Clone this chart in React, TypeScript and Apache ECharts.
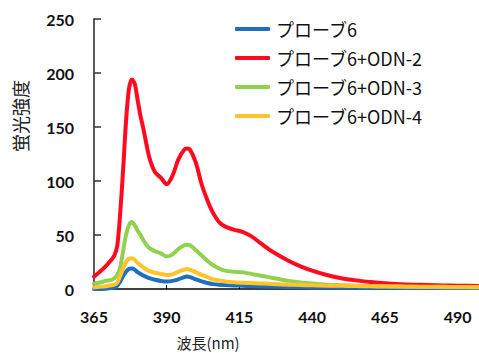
import React, { useEffect, useRef } from "react";
import * as echarts from "echarts";

const wavelengths = [365, 367, 369, 371, 372, 373, 374, 375, 376, 377, 378, 379, 380, 381, 382, 384, 386, 388, 390, 392, 394, 396, 397, 398, 400, 402, 404, 406, 408, 410, 413, 416, 419, 422, 425, 428, 432, 436, 440, 445, 450, 455, 460, 465, 470, 475, 480, 485, 490, 497];

const probe6 = [0, 0, 0.2, 0.8, 1.5, 3, 7, 12, 16, 18.5, 19, 18, 15.5, 14, 12.5, 10, 8.5, 7.5, 7, 7.5, 9, 11, 11.5, 11, 9, 7, 5.5, 4.5, 4, 3.7, 3.3, 3, 2.7, 2.5, 2.3, 2.1, 1.9, 1.7, 1.5, 1.4, 1.3, 1.2, 1.1, 1.1, 1, 1, 1, 1, 1, 1];
const odn2 = [11.5, 16, 21, 27, 31, 40, 70, 110, 155, 185, 194, 190, 175, 160, 148, 122, 108, 103, 97, 105, 120, 129, 130, 129, 117, 97, 82, 70, 62, 58, 55, 53, 49, 43, 37, 32, 26, 21, 17, 13, 10, 8, 6.5, 5.3, 4.5, 4, 3.7, 3.3, 3, 2.8];
const odn3 = [5, 6, 7.5, 8.5, 10, 13, 20, 35, 50, 59, 62, 59, 54, 50, 45, 38, 35, 33, 30, 32, 37, 40.5, 41, 40.5, 36, 31, 26, 22, 19, 17, 16, 15.5, 14, 12.5, 11, 9.5, 7.5, 6, 5, 4, 3.5, 3, 2.7, 2.5, 2.2, 2, 1.8, 1.7, 1.6, 1.5];
const odn4 = [1.5, 2, 2.5, 3.5, 4, 6, 12, 19, 25, 28, 28.5, 27, 24, 22, 20, 16.5, 15, 14, 13, 13.5, 16, 18, 18.5, 18, 15.5, 13, 11, 9, 8, 7, 6.2, 5.8, 5.5, 5.2, 4.8, 4.5, 4, 3.7, 3.4, 3.1, 2.9, 2.7, 2.5, 2.3, 2.2, 2.1, 2, 2, 1.9, 1.8];

const seriesNames = ["プローブ6", "プローブ6+ODN-2", "プローブ6+ODN-3", "プローブ6+ODN-4"];
const seriesColors = ["#1F6FC0", "#FF0A1E", "#92D050", "#FFC32C"];
const seriesValues = [probe6, odn2, odn3, odn4];

const xStart = 365;
const xEnd = 497;
const xStep = 25;
const yMax = 250;
const yStep = 50;

export default function App() {
  const ref = useRef<HTMLDivElement>(null);
  useEffect(() => {
    const chart = echarts.init(ref.current!, null, { renderer: "svg" });
    chart.setOption({
      animation: false,
      grid: { left: 94, right: 1, top: 19, bottom: 64 },
      legend: {
        orient: "vertical",
        left: 230,
        top: 15,
        icon: "roundRect",
        itemWidth: 35,
        itemHeight: 4,
        itemGap: 11,
        textStyle: { fontFamily: "Noto Sans CJK JP", fontSize: 18, color: "#111", padding: [0, 0, 0, 1] },
        data: seriesNames,
      },
      xAxis: {
        type: "value",
        min: 0,
        max: xEnd - xStart,
        interval: xStep,
        axisLine: { show: true, lineStyle: { color: "#000", width: 1.5 } },
        axisTick: { show: true, inside: true, length: 4, lineStyle: { color: "#000" } },
        axisLabel: {
          margin: 19,
          formatter: (v: number) => String(v + xStart),
          fontFamily: "Lato",
          fontWeight: "bold",
          fontSize: 16,
          color: "#111",
          showMaxLabel: false,
        },
        splitLine: { show: false },
      },
      yAxis: {
        type: "value",
        min: 0,
        max: yMax,
        interval: yStep,
        axisLine: { show: true, lineStyle: { color: "#595959", width: 2 } },
        axisTick: { show: true, inside: true, length: 7, lineStyle: { color: "#333", width: 1.5 } },
        axisLabel: {
          margin: 20,
          fontFamily: "Lato",
          fontWeight: "bold",
          fontSize: 16,
          color: "#111",
        },
        splitLine: { show: false },
      },
      graphic: [
        {
          type: "text",
          x: 20,
          y: 116,
          rotation: Math.PI / 2,
          style: {
            text: "蛍光強度",
            fontFamily: "Noto Sans CJK JP",
            fontSize: 18,
            fill: "#222",
            align: "center",
            verticalAlign: "middle",
          },
        },
        {
          type: "text",
          x: 208,
          y: 342,
          style: {
            text: "波長(nm)",
            fontFamily: "Noto Sans CJK JP",
            fontSize: 15,
            fill: "#222",
            align: "center",
            verticalAlign: "middle",
          },
        },
      ],
      series: seriesNames.map((name, i) => ({
        name,
        type: "line",
        smooth: 0.3,
        symbol: "none",
        color: seriesColors[i],
        lineStyle: { width: 4, color: seriesColors[i], cap: "round", join: "round" },
        data: wavelengths.map((w, j) => [w - xStart, seriesValues[i][j]]),
      })),
    });
    return () => chart.dispose();
  }, []);
  return <div ref={ref} style={{ width: 479, height: 353, position: "absolute", left: 0, top: 0 }} />;
}
